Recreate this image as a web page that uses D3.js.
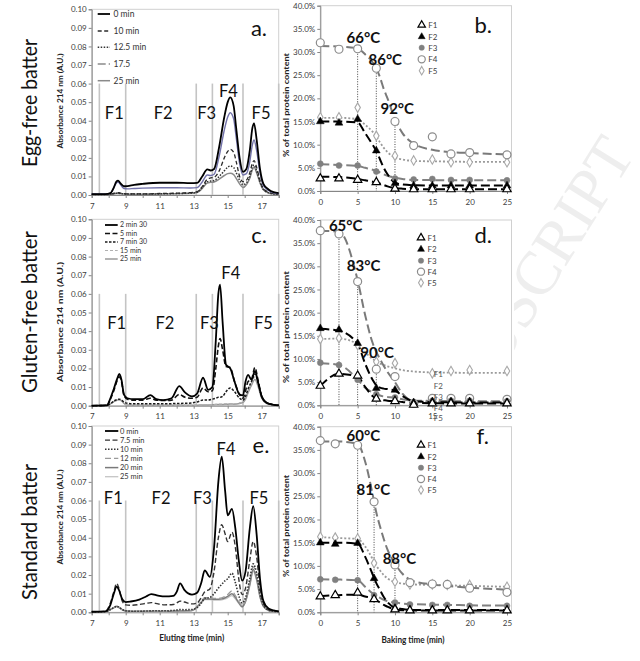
<!DOCTYPE html>
<html><head><meta charset="utf-8">
<script src="https://cdn.jsdelivr.net/npm/d3@7"></script>
<style>body{margin:0;background:#fff}svg{display:block}</style>
</head><body><svg id="c" width="640" height="661"></svg>
<script>
// ---------------- DATA ----------------
const rowLabels = ["Egg-free batter", "Gluten-free batter", "Standard batter"];
const fractionBounds = [7.45, 9.0, 13.15, 14.1, 15.9, 18];
const fractionNames = ["F1", "F2", "F3", "F4", "F5"];
const chromXTicks = [7,8,9,10,11,12,13,14,15,16,17,18];
const absTicks = [0,0.01,0.02,0.03,0.04,0.05,0.06,0.07,0.08,0.09,0.10];
const pctTicks = [0,5,10,15,20,25,30,35,40];
const bakeTicks = [0,5,10,15,20,25];

// Panel a (egg-free chromatograms)
const aTimes = [7,7.8,8.1,8.3,8.45,8.55,8.7,8.9,9.1,9.5,10,11,12,12.8,13.2,13.5,13.8,14.0,14.2,14.5,14.8,15.0,15.15,15.35,15.5,15.7,15.9,16.1,16.3,16.45,16.55,16.7,16.9,17.1,17.4,17.7,18];
const aLabels = ["0 min","10 min","12.5 min","17.5","25 min"];
const a0 =   [0.0005,0.0005,0.001,0.004,0.0072,0.0077,0.0062,0.0047,0.0048,0.0055,0.006,0.0066,0.0066,0.0064,0.0065,0.010,0.0138,0.0132,0.014,0.026,0.042,0.050,0.0526,0.048,0.036,0.020,0.0125,0.014,0.024,0.036,0.0386,0.030,0.014,0.006,0.003,0.0015,0.001];
const a10 =  [0.0003,0.0003,0.0005,0.0009,0.0012,0.0012,0.001,0.0007,0.0006,0.0006,0.0006,0.0008,0.001,0.0013,0.0018,0.0045,0.0085,0.0092,0.0095,0.013,0.020,0.0235,0.0246,0.023,0.018,0.010,0.0072,0.008,0.012,0.017,0.0185,0.015,0.008,0.0035,0.0015,0.0008,0.0005];
const a125 = [0.0003,0.0003,0.0005,0.0008,0.001,0.001,0.0008,0.0006,0.0005,0.0005,0.0005,0.0006,0.0008,0.001,0.0015,0.004,0.0072,0.0075,0.0078,0.010,0.013,0.015,0.0156,0.0148,0.012,0.008,0.0055,0.0065,0.010,0.0148,0.0162,0.013,0.007,0.003,0.0012,0.0006,0.0004];
const a175 = [0.0005,0.0005,0.001,0.0038,0.0065,0.007,0.0055,0.0035,0.0033,0.0035,0.0037,0.0039,0.0039,0.0038,0.004,0.007,0.0108,0.0105,0.0112,0.021,0.035,0.042,0.0443,0.041,0.031,0.017,0.0108,0.0115,0.018,0.027,0.0296,0.024,0.012,0.005,0.0025,0.0012,0.0008];
const a25 =  [0.0003,0.0003,0.0004,0.0006,0.0008,0.0008,0.0007,0.0005,0.0004,0.0004,0.0004,0.0005,0.0007,0.0009,0.0013,0.0035,0.0065,0.0068,0.007,0.0085,0.0105,0.0115,0.0117,0.011,0.009,0.006,0.004,0.0055,0.009,0.0135,0.0149,0.012,0.0065,0.0028,0.0011,0.0006,0.0004];

// Panel c (gluten-free chromatograms)
const cTimes = [7,7.9,8.1,8.3,8.5,8.62,8.75,8.9,9.1,9.5,10,10.45,10.8,11.2,11.7,12.15,12.5,12.9,13.2,13.55,13.85,14.1,14.3,14.45,14.55,14.7,14.9,15.15,15.4,15.7,15.9,16.05,16.2,16.4,16.6,16.8,17.0,17.3,17.7,18];
const cLabels = ["2 min 30","5 min","7 min 30","15 min","25 min"];
const c230 = [0,0.0002,0.004,0.009,0.0145,0.017,0.014,0.006,0.004,0.0035,0.0035,0.0057,0.0035,0.003,0.004,0.0105,0.007,0.005,0.0065,0.015,0.0085,0.010,0.035,0.060,0.065,0.045,0.022,0.020,0.013,0.006,0.0055,0.013,0.0165,0.014,0.0185,0.012,0.005,0.0015,0.0005,0.0002];
const c5 =   [0,0.0002,0.0035,0.008,0.0135,0.0155,0.013,0.0055,0.0035,0.003,0.003,0.004,0.003,0.0028,0.003,0.006,0.0045,0.004,0.0045,0.0095,0.0075,0.008,0.020,0.032,0.036,0.030,0.021,0.0205,0.013,0.006,0.004,0.008,0.013,0.014,0.0205,0.013,0.005,0.0015,0.0005,0.0002];
const c730 = [0,0.0002,0.001,0.0025,0.0033,0.0035,0.003,0.002,0.0013,0.001,0.001,0.001,0.001,0.001,0.0011,0.0012,0.0013,0.0015,0.002,0.003,0.003,0.0035,0.004,0.0045,0.0045,0.005,0.0075,0.0095,0.0075,0.004,0.003,0.005,0.009,0.013,0.017,0.012,0.005,0.0015,0.0005,0.0002];
const c15 =  [0,0.0002,0.001,0.002,0.0028,0.003,0.0026,0.0012,0.0004,0.0003,0.0003,0.0003,0.0003,0.0003,0.0003,0.0003,0.0003,0.0003,0.0004,0.0005,0.0005,0.0006,0.0007,0.0008,0.0008,0.0009,0.001,0.0011,0.001,0.0015,0.002,0.004,0.008,0.012,0.0155,0.011,0.0045,0.0013,0.0004,0.0002];
const c25 =  [0,0.0002,0.001,0.0022,0.003,0.0032,0.0027,0.0012,0.0004,0.0003,0.0003,0.0003,0.0003,0.0003,0.0003,0.0003,0.0003,0.0003,0.0003,0.0004,0.0004,0.0005,0.0006,0.0006,0.0006,0.0007,0.0008,0.0009,0.0008,0.0012,0.0018,0.0035,0.007,0.011,0.014,0.010,0.004,0.0012,0.0004,0.0002];

// Panel e (standard chromatograms)
const eTimes = [7,7.8,8.1,8.3,8.47,8.6,8.8,9.0,9.3,9.8,10.2,10.5,10.9,11.3,11.8,12.0,12.2,12.45,12.9,13.2,13.45,13.65,13.95,14.2,14.45,14.65,14.85,15.0,15.25,15.45,15.65,15.85,16.05,16.3,16.5,16.7,16.9,17.1,17.4,17.7,18];
const eLabels = ["0 min","7.5 min","10 min","12 min","20 min","25 min"];
const e0 =  [0.0003,0.0005,0.004,0.010,0.0138,0.012,0.007,0.0055,0.0058,0.0068,0.0085,0.0098,0.009,0.0085,0.0088,0.011,0.0155,0.012,0.0095,0.0105,0.016,0.0225,0.019,0.035,0.070,0.0835,0.065,0.052,0.0555,0.045,0.028,0.017,0.022,0.045,0.057,0.042,0.018,0.006,0.002,0.001,0.0005];
const e75 = [0.0003,0.0005,0.005,0.011,0.0155,0.013,0.006,0.004,0.0038,0.0042,0.0048,0.0052,0.0045,0.004,0.0042,0.005,0.006,0.0055,0.0045,0.005,0.008,0.011,0.0125,0.022,0.040,0.047,0.042,0.038,0.043,0.035,0.018,0.0095,0.013,0.028,0.038,0.030,0.013,0.005,0.0015,0.0008,0.0004];
const e10 = [0.0002,0.0003,0.0015,0.0025,0.0032,0.0028,0.0015,0.0008,0.0006,0.0006,0.0007,0.0008,0.0008,0.0008,0.001,0.0012,0.0015,0.0014,0.0015,0.0025,0.005,0.0075,0.008,0.010,0.013,0.015,0.017,0.018,0.021,0.016,0.009,0.005,0.008,0.018,0.026,0.021,0.010,0.004,0.0012,0.0006,0.0003];
const e12 = [0.0002,0.0003,0.0015,0.0025,0.003,0.0026,0.0014,0.0007,0.0005,0.0005,0.0005,0.0005,0.0005,0.0005,0.0006,0.0007,0.0008,0.0008,0.001,0.003,0.006,0.0078,0.0078,0.0075,0.0075,0.0078,0.0085,0.0095,0.0115,0.009,0.006,0.0035,0.0065,0.016,0.0245,0.019,0.009,0.0035,0.0011,0.0005,0.0003];
const e20 = [0.0002,0.0003,0.0015,0.0025,0.0032,0.0027,0.0014,0.0007,0.0005,0.0005,0.0005,0.0005,0.0005,0.0005,0.0006,0.0007,0.0008,0.0008,0.001,0.003,0.0055,0.0072,0.0072,0.007,0.007,0.0072,0.0078,0.0085,0.010,0.008,0.0052,0.003,0.006,0.015,0.023,0.018,0.0085,0.0033,0.001,0.0005,0.0003];
const e25 = [0.0002,0.0003,0.0014,0.0023,0.003,0.0025,0.0013,0.0006,0.0004,0.0004,0.0004,0.0004,0.0004,0.0004,0.0005,0.0006,0.0007,0.0007,0.0009,0.0028,0.0052,0.0068,0.0068,0.0065,0.0065,0.0067,0.0072,0.0078,0.009,0.0072,0.0048,0.0028,0.0055,0.014,0.022,0.017,0.008,0.003,0.001,0.0005,0.0003];

// Right panels: % of total protein content vs baking time
const bdTimes = [0,2.5,5,7.5,10,12.5,15,17.5,20,25];
const fTimes  = [0,2,5,7.2,10,12,15,17,20,25];
const fitTimes = [0,2.5,5,6,7,7.5,8,8.5,9,10,11,12.5,15,17.5,20,25];

const bF1 = [2.7,2.7,2.4,1.9,0.5,0.36,0.36,0.36,0.36,0.36];
const bF2 = [15.0,14.7,15.5,8.7,1.65,1.15,1.15,1.15,1.15,1.15];
const bF3 = [5.9,5.5,5.5,4.2,2.7,2.5,2.6,2.4,2.4,2.3];
const bF4 = [32.0,30.6,30.7,26.5,15.0,9.8,11.7,8.0,8.3,7.8];
const bF5 = [15.9,15.9,18.0,11.9,7.6,6.6,6.8,6.2,6.2,6.2];
const bFitF1 = [3.1,3.0,2.6,2.3,2.0,1.8,1.6,1.3,1.0,0.65,0.5,0.4,0.38,0.36,0.36,0.36];
const bFitF2 = [15,15,14.8,12.5,10,8.6,6.8,5,3.6,1.8,1.4,1.25,1.2,1.2,1.2,1.2];
const bFitF3 = [5.8,5.6,5.4,5,4.6,4.3,4,3.6,3.3,2.9,2.6,2.4,2.35,2.3,2.3,2.3];
const bFitF4 = [31.3,31.2,30.8,29.5,27.8,26.5,24.5,22,20,15.5,12.5,10.2,8.9,8.4,8.2,7.9];
const bFitF5 = [15.8,15.8,15.5,14.3,12.8,11.8,10.5,9.3,8.4,7.2,6.8,6.5,6.4,6.35,6.3,6.3];

const dF1 = [4.2,6.8,6.4,1.4,0.9,0.1,0.4,0.4,0.4,0.4];
const dF2 = [16.6,16.3,13.4,3.7,3.3,0.6,0.8,0.8,0.8,0.6];
const dF3 = [9.2,8.7,5.5,2.4,1.7,0.4,1.0,1.0,1.0,0.9];
const dF4 = [37.7,37.0,26.7,7.8,6.2,0.4,1.5,1.5,1.5,1.3];
const dF5 = [14.3,14.5,13.0,9.4,9.1,null,6.9,7.4,7.6,7.4];
const dFitF1 = [4.2,6.8,6.2,4,2,1.4,1.2,1.1,1,0.9,0.7,0.5,0.45,0.4,0.4,0.4];
const dFitF2 = [16.5,16.1,13.2,9,5.5,4.3,3.8,3.6,3.5,3.2,2,0.9,0.7,0.65,0.6,0.6];
const dFitF3 = [9.1,8.7,5.6,3.8,2.8,2.4,2.1,1.9,1.8,1.6,1.3,1.0,0.95,0.9,0.9,0.9];
const dFitF4 = [37.7,37.5,27,19.5,13.5,11.5,10,8.5,7.2,5,2.5,0.9,0.8,0.75,0.7,0.7];
const dFitF5 = [14.3,14.4,13.2,11.5,10,9.5,9,8.7,8.4,8,7.6,7.3,7.1,7.05,7,7];

const fF1 = [3.4,3.7,4.2,2.8,0.6,0.4,0.4,0.4,0.4,0.4];
const fF2 = [15.0,14.7,14.9,7.3,0.9,0.5,0.5,0.5,0.5,0.5];
const fF3 = [7.1,7.0,6.9,3.7,2.1,1.7,1.6,1.6,1.4,1.4];
const fF4 = [37.0,36.3,36.0,23.8,10.2,6.4,6.1,6.0,5.2,4.3];
const fF5 = [16.3,16.1,15.9,10.6,6.6,6.0,6.0,5.9,5.9,5.5];
const fFitF1 = [3.5,3.7,3.8,3.4,3,2.6,2.1,1.6,1.2,0.6,0.45,0.4,0.4,0.4,0.4,0.4];
const fFitF2 = [15,15,14.8,12,8.2,6.3,4.8,3.3,2.2,1,0.7,0.5,0.5,0.5,0.5,0.5];
const fFitF3 = [7.1,7.05,6.9,5.5,4.1,3.5,3.1,2.7,2.4,2.1,1.9,1.75,1.65,1.6,1.5,1.45];
const fFitF4 = [36.8,36.8,36.3,32.5,25.5,21.5,18.5,15.8,13.5,10.5,8.3,6.7,6.0,5.6,5.3,4.9];
const fFitF5 = [16.2,16.0,15.8,14.2,11.5,10,9,8,7.3,6.5,6.2,6,5.9,5.8,5.7,5.5];

const bTemps = [{t:"66°C",x:5.77,v:33.1},{t:"86°C",x:8.7,v:28.3},{t:"92°C",x:10.3,v:17.7}];
const dTemps = [{t:"65°C",x:3.4,v:38.8},{t:"83°C",x:5.8,v:30.1},{t:"90°C",x:7.6,v:11.4}];
const fTemps = [{t:"60°C",x:5.76,v:38.0},{t:"81°C",x:7.1,v:26.5},{t:"88°C",x:10.6,v:11.6}];
const bDrops = [{x:5,v:30.7},{x:7.5,v:26.5},{x:10,v:15.0}];
const dDrops = [{x:2.5,v:37.0},{x:5,v:26.7},{x:7.5,v:9.4}];
const fDrops = [{x:5,v:36.0},{x:7.2,v:23.8},{x:10,v:10.2}];

// ---------------- DRAWING ----------------
const FONT = "Lato, 'Open Sans', 'DejaVu Sans', sans-serif";
const svg = d3.select("#c");
svg.append("rect").attr("width",640).attr("height",661).attr("fill","#fff");

// faint watermark (only visible right of the charts)
const defs = svg.append("defs");
defs.append("clipPath").attr("id","wmclip").append("rect").attr("x",514).attr("y",0).attr("width",126).attr("height",661);
svg.append("g").attr("clip-path","url(#wmclip)")
  .append("text").attr("transform","translate(636,154) rotate(-58)")
  .attr("text-anchor","end").attr("font-family","'Liberation Serif','DejaVu Serif',serif")
  .attr("font-size",62).attr("fill","#eeeeee").text("ACCEPTED MANUSCRIPT");

// row labels
const rowCenters = [103, 312, 532], rowLens = [128, 162, 136];
rowLabels.forEach((t,i) => {
  svg.append("text").attr("transform",`translate(37,${rowCenters[i]}) rotate(-90)`)
    .attr("text-anchor","middle").attr("font-family",FONT).attr("font-size",21).attr("fill","#111")
    .attr("textLength",rowLens[i]).attr("lengthAdjust","spacingAndGlyphs").text(t);
});

function styleAxis(g, fs) {
  g.select(".domain").attr("stroke","#868686");
  g.selectAll(".tick line").attr("stroke","#868686");
  g.selectAll(".tick text").attr("font-family",FONT).attr("font-size",fs).attr("fill","#404040");
}

const xChrom = d3.scaleLinear().domain([7,18]).range([91.7,278.7]);
const xBake = d3.scaleLinear().domain([0,25]).range([320.3,507]);

function chromPanel(cfg) {
  const x = xChrom;
  const y = d3.scaleLinear().domain([0,0.1]).range([cfg.y0, cfg.y1]);
  const g = svg.append("g");
  g.append("rect").attr("x",x(7)).attr("y",y(0.1)).attr("width",x(18)-x(7)).attr("height",y(0)-y(0.1))
    .attr("fill","none").attr("stroke","#d0d0d0");
  fractionBounds.forEach(b => g.append("line").attr("x1",x(b)).attr("x2",x(b)).attr("y1",y(0)).attr("y2",y(0.06))
    .attr("stroke","#c4c4c4").attr("stroke-width",1.6));
  const xa = g.append("g").attr("transform",`translate(0,${y(0)})`)
    .call(d3.axisBottom(x).tickValues(chromXTicks).tickFormat(d => d % 2 === 1 ? d : "").tickSize(3).tickPadding(5));
  styleAxis(xa, 8);
  const ya = g.append("g").attr("transform",`translate(${x(7)},0)`)
    .call(d3.axisLeft(y).tickValues(absTicks).tickFormat(d3.format(".2f")).tickSize(3).tickPadding(2));
  styleAxis(ya, 8);
  const line = d3.line().x(d => x(d[0])).y(d => y(d[1])).curve(d3.curveMonotoneX);
  cfg.series.forEach(s => {
    const pts = cfg.times.map((t,i) => [t, s.values[i]]).filter(p => p[1] != null);
    g.append("path").attr("d", line(pts)).attr("fill","none").attr("stroke",s.color)
      .attr("stroke-width",s.w).attr("stroke-dasharray",s.dash || null);
  });
  cfg.flabels.forEach((f,i) => g.append("text").attr("x",x(f[0])).attr("y",y(f[1]))
    .attr("dy","0.35em").attr("text-anchor","middle").attr("font-family",FONT).attr("font-size",16.5)
    .attr("fill","#111").text(fractionNames[i]));
  const L = cfg.legend;
  cfg.legendOrder.forEach((si,k) => {
    const s = cfg.series[si];
    const yy = L.rows[k];
    g.append("line").attr("x1",L.x1).attr("x2",L.x2).attr("y1",yy).attr("y2",yy)
      .attr("stroke",s.legendColor || s.color).attr("stroke-width",s.w).attr("stroke-dasharray",s.legendDash || s.dash || null);
    g.append("text").attr("x",L.tx).attr("y",yy).attr("dy","0.35em").attr("font-family",FONT)
      .attr("font-size",L.fs).attr("fill","#333").text(s.label);
  });
  g.append("text").attr("x",cfg.letter[0]).attr("y",cfg.letter[1]).attr("dy","0.35em").attr("text-anchor","middle")
    .attr("font-family",FONT).attr("font-size",22).attr("fill","#111").text(cfg.letter[2]);
  g.append("text").attr("transform",`translate(63,${cfg.ylab[0]}) rotate(-90)`).attr("text-anchor","middle")
    .attr("font-family",FONT).attr("font-weight","bold").attr("font-size",7.5).attr("fill","#222")
    .attr("textLength",cfg.ylab[1]).attr("lengthAdjust","spacingAndGlyphs").text(cfg.ylab[2]);
}

chromPanel({
  y0:195, y1:9.3, times:aTimes,
  series:[
    {label:aLabels[4], values:a25, color:"#8a8a8a", w:1.5},
    {label:aLabels[2], values:a125, color:"#333", w:1.5, dash:"1.5,1.5"},
    {label:aLabels[1], values:a10, color:"#2a2a2a", w:1.3, dash:"4,2.5"},
    {label:aLabels[3], values:a175, color:"#7272aa", w:1.4, legendDash:"8,3,2,3", legendColor:"#8a8a8a"},
    {label:aLabels[0], values:a0, color:"#000", w:1.8}
  ],
  legendOrder:[4,2,1,3,0],
  legend:{x1:97.7,x2:110,tx:113.5,rows:[14,31,47.3,64,80.7],fs:8.5},
  flabels:[[8.33,0.044],[11.2,0.044],[13.76,0.044],[15.04,0.056],[16.96,0.044]],
  letter:[259,28.3,"a."],
  ylab:[101,95,"Absorbance 214 nm (A.U.)"]
});

chromPanel({
  y0:405.7, y1:219.3, times:cTimes,
  series:[
    {label:cLabels[4], values:c25, color:"#9a9a9a", w:1.5},
    {label:cLabels[3], values:c15, color:"#b0b0b0", w:1.2, dash:"3,2"},
    {label:cLabels[2], values:c730, color:"#1a1a1a", w:1.5, dash:"2.5,1.5"},
    {label:cLabels[1], values:c5, color:"#111", w:1.6, dash:"5,2.5"},
    {label:cLabels[0], values:c230, color:"#000", w:1.8}
  ],
  legendOrder:[4,3,2,1,0],
  legend:{x1:105,x2:117.7,tx:120,rows:[225,233.5,242,250.5,259],fs:7},
  flabels:[[8.47,0.0442],[11.31,0.0442],[13.92,0.0442],[15.18,0.071],[17.1,0.0442]],
  letter:[259,235,"c."],
  ylab:[322,120,"Absorbance  214 nm  (A.U.)"]
});

chromPanel({
  y0:612.3, y1:426, times:eTimes,
  series:[
    {label:eLabels[5], values:e25, color:"#c4c4c4", w:1.3},
    {label:eLabels[4], values:e20, color:"#7a7a7a", w:1.5},
    {label:eLabels[3], values:e12, color:"#9a9a9a", w:1.3, dash:"6,3"},
    {label:eLabels[2], values:e10, color:"#333", w:1.6, dash:"1.5,1.5"},
    {label:eLabels[1], values:e75, color:"#333", w:1.4, dash:"5,2.5"},
    {label:eLabels[0], values:e0, color:"#000", w:1.8}
  ],
  legendOrder:[5,4,3,2,1,0],
  legend:{x1:105,x2:118.3,tx:120,rows:[431,440.1,449.3,458.4,467.6,476.7],fs:7.5},
  flabels:[[8.27,0.0612],[11.08,0.0612],[13.51,0.0612],[14.9,0.0875],[16.84,0.0612]],
  letter:[261,445,"e."],
  ylab:[517,95,"Absorbance 214 nm (A.U.)"]
});

svg.append("text").attr("x",191.7).attr("y",638).attr("dy","0.35em").attr("text-anchor","middle")
  .attr("font-family",FONT).attr("font-weight","bold").attr("font-size",8.5).attr("fill","#222")
  .attr("textLength",65).attr("lengthAdjust","spacingAndGlyphs").text("Eluting time (min)");

// ---------- right panels ----------
const markerStyles = [
  {type:d3.symbolTriangle, size:30, fill:"#fff", stroke:"#000", sw:1.2},
  {type:d3.symbolTriangle, size:26, fill:"#000", stroke:"#000", sw:0.5},
  {type:d3.symbolCircle, size:28, fill:"#808080", stroke:"#808080", sw:0.5},
  {type:d3.symbolCircle, size:50, fill:"#fff", stroke:"#8c8c8c", sw:1.2},
  {type:d3.symbolDiamond, size:26, fill:"#fff", stroke:"#a8a8a8", sw:1.1}
];
const fitStyles = [
  {color:"#000", dash:"9,4", w:2},
  {color:"#000", dash:"9,4", w:2},
  {color:"#808080", dash:"9,4", w:2},
  {color:"#7a7a7a", dash:"9,4", w:2},
  {color:"#9a9a9a", dash:"2,2", w:1.8}
];

function kinPanel(cfg) {
  const x = xBake;
  const y = d3.scaleLinear().domain([0,40]).range([cfg.y0, cfg.y1]);
  const g = svg.append("g");
  g.append("rect").attr("x",x(0)).attr("y",y(40)).attr("width",x(25.6)-x(0)).attr("height",y(0)-y(40))
    .attr("fill","none").attr("stroke","#d0d0d0");
  const xa = g.append("g").attr("transform",`translate(0,${y(0)})`)
    .call(d3.axisBottom(x).tickValues(bakeTicks).tickSize(3).tickPadding(5));
  styleAxis(xa, 8);
  const ya = g.append("g").attr("transform",`translate(${x(0)},0)`)
    .call(d3.axisLeft(y).tickValues(pctTicks).tickFormat(d => d.toFixed(1) + "%").tickSize(3).tickPadding(2));
  styleAxis(ya, 8);
  cfg.drops.forEach(d => g.append("line").attr("x1",x(d.x)).attr("x2",x(d.x)).attr("y1",y(d.v)).attr("y2",y(0))
    .attr("stroke","#444").attr("stroke-width",1).attr("stroke-dasharray","1,1.5"));
  const line = d3.line().x(d => x(d[0])).y(d => y(d[1])).curve(d3.curveMonotoneX);
  [4,3,2,1,0].forEach(i => {
    const st = fitStyles[i];
    g.append("path").attr("d", line(fitTimes.map((t,k) => [t, cfg.fits[i][k]])))
      .attr("fill","none").attr("stroke",st.color).attr("stroke-width",st.w).attr("stroke-dasharray",st.dash);
  });
  [4,3,2,1,0].forEach(i => {
    const m = markerStyles[i];
    cfg.times.forEach((t,k) => {
      const v = cfg.points[i][k];
      if (v == null) return;
      g.append("path").attr("d", d3.symbol().type(m.type).size(m.size)())
        .attr("transform",`translate(${x(t)},${y(v)})`)
        .attr("fill",m.fill).attr("stroke",m.stroke).attr("stroke-width",m.sw);
    });
  });
  cfg.temps.forEach(t => g.append("text").attr("x",x(t.x)).attr("y",y(t.v)).attr("dy","0.35em")
    .attr("text-anchor","middle").attr("font-family",FONT).attr("font-weight","bold").attr("font-size",15)
    .attr("fill","#111").text(t.t));
  fractionNames.forEach((n,i) => {
    const m = markerStyles[i];
    const yy = cfg.legendRows[i];
    g.append("path").attr("d", d3.symbol().type(m.type).size(m.size*0.8)())
      .attr("transform",`translate(${cfg.legendX},${yy})`)
      .attr("fill",m.fill).attr("stroke",m.stroke).attr("stroke-width",m.sw);
    g.append("text").attr("x",cfg.legendX+6.5).attr("y",yy).attr("dy","0.35em").attr("font-family",FONT)
      .attr("font-size",8).attr("fill","#404040").text(n);
  });
  g.append("text").attr("x",cfg.letter[0]).attr("y",cfg.letter[1]).attr("dy","0.35em").attr("text-anchor","middle")
    .attr("font-family",FONT).attr("font-size",22).attr("fill","#111").text(cfg.letter[2]);
  g.append("text").attr("transform",`translate(289,${cfg.ylab[0]}) rotate(-90)`).attr("text-anchor","middle")
    .attr("font-family",FONT).attr("font-weight","bold").attr("font-size",7.5).attr("fill","#222")
    .attr("textLength",cfg.ylab[1]).attr("lengthAdjust","spacingAndGlyphs").text("% of total protein content");
}

kinPanel({
  y0:191, y1:5.7, times:bdTimes,
  points:[bF1,bF2,bF3,bF4,bF5], fits:[bFitF1,bFitF2,bFitF3,bFitF4,bFitF5],
  drops:bDrops, temps:bTemps, legendX:421.7, legendRows:[25,36.7,47.7,59.3,70.7],
  letter:[483.3,25,"b."], ylab:[105,104]
});
kinPanel({
  y0:405.3, y1:220, times:bdTimes,
  points:[dF1,dF2,dF3,dF4,dF5], fits:[dFitF1,dFitF2,dFitF3,dFitF4,dFitF5],
  drops:dDrops, temps:dTemps, legendX:421, legendRows:[237.7,249.3,260.7,271.7,282.7],
  letter:[483.3,235,"d."], ylab:[327,112]
});
const strayY = [374.3,385.7,396.7,408.3,418.5];
fractionNames.forEach((n,i) => svg.append("text").attr("x",438.3).attr("y",strayY[i]).attr("dy","0.35em")
  .attr("text-anchor","middle").attr("font-family",FONT).attr("font-size",8).attr("fill","#555").text(n));
kinPanel({
  y0:612.3, y1:426.7, times:fTimes,
  points:[fF1,fF2,fF3,fF4,fF5], fits:[fFitF1,fFitF2,fFitF3,fFitF4,fFitF5],
  drops:fDrops, temps:fTemps, legendX:421, legendRows:[445,456.7,467.7,479,490],
  letter:[482.7,436.7,"f."], ylab:[526,102]
});
svg.append("text").attr("x",413).attr("y",640).attr("dy","0.35em").attr("text-anchor","middle")
  .attr("font-family",FONT).attr("font-weight","bold").attr("font-size",8.5).attr("fill","#222")
  .attr("textLength",63).attr("lengthAdjust","spacingAndGlyphs").text("Baking time (min)");
</script></body></html>
